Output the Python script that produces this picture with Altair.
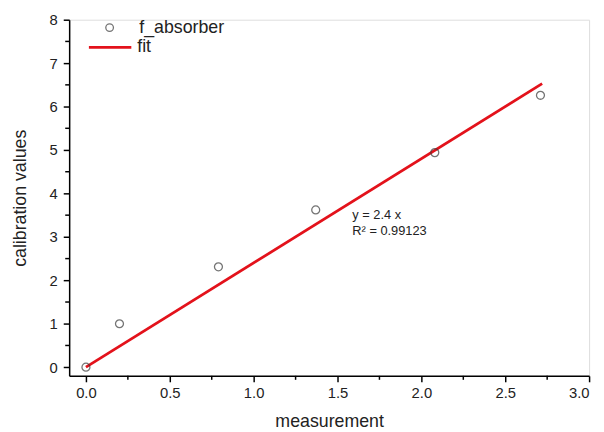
import altair as alt
import pandas as pd

# data
meas = [0.0, 0.20, 0.79, 1.37, 2.08, 2.71]
calib = [0.0, 1.00, 2.31, 3.62, 4.94, 6.26]
fit_x = [0.0, 2.72]
fit_y = [0.0, 6.53]
x_ticks = [0.0, 0.5, 1.0, 1.5, 2.0, 2.5, 3.0]
y_ticks = [0, 1, 2, 3, 4, 5, 6, 7, 8]
x_minor = [0.25, 0.75, 1.25, 1.75, 2.25, 2.75]
y_minor = [0.5, 1.5, 2.5, 3.5, 4.5, 5.5, 6.5, 7.5]
eq_lines = ["y = 2.4 x", "R\u00b2 = 0.99123"]
legend_labels = ["f_absorber", "fit"]

W, H = 527, 361
FONT = "Liberation Sans"
TXT = "#222222"
RED = "#e3121b"

pts = pd.DataFrame({"measurement": meas, "calibration": calib})
fit = pd.DataFrame({"measurement": fit_x, "calibration": fit_y})

xs = alt.Scale(domain=[-0.1, 3.0], nice=False, zero=False)
ys = alt.Scale(domain=[-0.2, 8], nice=False, zero=False)

common = dict(grid=False, domainColor="black", domainWidth=1.5, tickColor="black",
              tickWidth=1.5, tickSize=6, labelFont=FONT, labelFontSize=15,
              labelColor=TXT, titleFont=FONT, titleFontSize=18,
              titleFontWeight="normal", titleColor=TXT)
xaxis = alt.Axis(values=x_ticks, format=".1f", title="measurement",
                 labelPadding=4, titlePadding=12, **common)
yaxis = alt.Axis(values=y_ticks, format="d", title="calibration values",
                 labelPadding=6, titlePadding=20, **common)

line = alt.Chart(fit).mark_line(color=RED, strokeWidth=2.8).encode(
    x=alt.X("measurement:Q", scale=xs, axis=xaxis),
    y=alt.Y("calibration:Q", scale=ys, axis=yaxis),
)
points = alt.Chart(pts).mark_point(shape="circle", filled=False, color="#3a3a3a",
                                   size=65, strokeWidth=1.3).encode(
    x=alt.X("measurement:Q", scale=xs),
    y=alt.Y("calibration:Q", scale=ys),
)

xm = alt.Chart(pd.DataFrame({"v": x_minor})).mark_rule(color="black", strokeWidth=1.5).encode(
    x=alt.X("v:Q", scale=xs), y=alt.value(H), y2=alt.value(H + 4))
ym = alt.Chart(pd.DataFrame({"v": y_minor})).mark_rule(color="black", strokeWidth=1.5).encode(
    y=alt.Y("v:Q", scale=ys), x=alt.value(0), x2=alt.value(-4))

def label(text, x, y, size, **kw):
    return alt.Chart(pd.DataFrame({"t": [text]})).mark_text(
        font=FONT, fontSize=size, color=TXT, align="left", baseline="middle", **kw
    ).encode(text="t:N", x=alt.value(x), y=alt.value(y))

eq1 = label(eq_lines[0], 287, 198, 13)
eq2 = label(eq_lines[1], 287, 214, 13)

leg_pt = alt.Chart(pd.DataFrame({"a": [0]})).mark_point(
    shape="circle", filled=False, color="#3a3a3a", size=60, strokeWidth=1.3).encode(
    x=alt.value(41), y=alt.value(8))
leg_ln = alt.Chart(pd.DataFrame({"a": [0]})).mark_rule(color=RED, strokeWidth=2.8).encode(
    x=alt.value(20), x2=alt.value(63), y=alt.value(28))
leg1 = label(legend_labels[0], 71, 8, 18)
leg2 = label(legend_labels[1], 69, 28, 18)

chart = alt.layer(line, points, xm, ym, eq1, eq2, leg_pt, leg_ln, leg1, leg2).properties(
    width=W, height=H,
    autosize=alt.AutoSizeParams(type="none"),
    padding={"left": 62, "top": 9, "right": 7, "bottom": 52},
).configure_view(stroke=None).configure(background="white")

chart.save("out.html", embed_options={"renderer": "svg", "actions": False})
